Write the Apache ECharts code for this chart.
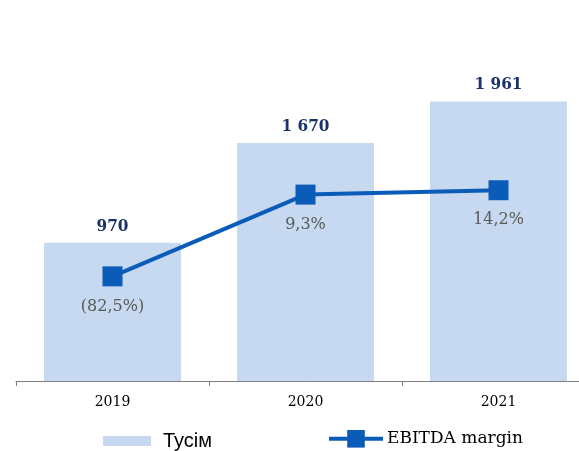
<!DOCTYPE html>
<html>
<head>
<meta charset="utf-8">
<script src="https://cdn.jsdelivr.net/npm/echarts@6/dist/echarts.min.js"></script>
<style>
  html, body { margin: 0; padding: 0; background: #fff; overflow: hidden; }
  /* the chart is wider than the window: its right edge is cut off, as in the source */
  #main { width: 595px; height: 451px; }
</style>
</head>
<body>
<div id="main"></div>
<script>
// data
var years = ["2019", "2020", "2021"];
var totalValues = [970, 1670, 1961];
var marginValues = [-82.5, 9.3, 14.2];

var serif = "'DejaVu Serif', serif";
var serifBold = "'DejaVu Serif Condensed', 'Liberation Serif', serif";

function fmtThousands(v) {
    return String(v).replace(/\B(?=(\d{3})+(?!\d))/g, " ");
}
function fmtPct(v) {
    var s = Math.abs(v).toFixed(1).replace(".", ",") + "%";
    return v < 0 ? "(" + s + ")" : s;
}

var chart = echarts.init(document.getElementById("main"));
chart.setOption({
    animation: false,
    grid: { left: 16, right: 0, top: 39, bottom: 70 },
    legend: [
        {
            data: ["Тусім"],
            left: 103, top: 431,
            padding: 0,
            itemWidth: 48, itemHeight: 10,
            icon: "rect",
            textStyle: { fontFamily: "'Liberation Sans', Arial, sans-serif", fontSize: 20, color: "#000", padding: [0, 0, 0, 7] }
        },
        {
            data: ["EBITDA margin"],
            left: 327, top: 430,
            padding: 0,
            itemWidth: 54, itemHeight: 22,
            lineStyle: { width: 4 },
            textStyle: { fontFamily: serif, fontSize: 17, color: "#000", padding: [0, 0, 0, -1] }
        }
    ],
    xAxis: {
        type: "category",
        data: years,
        axisLine: { lineStyle: { color: "#7f7f7f", width: 1 } },
        axisTick: { show: true, length: 5, lineStyle: { color: "#7f7f7f" } },
        axisLabel: { fontFamily: serif, fontSize: 14, color: "#000", margin: 14 }
    },
    yAxis: [
        { type: "value", min: 0, max: 2400, show: false, splitLine: { show: false } },
        { type: "value", min: -200, max: 184, show: false, splitLine: { show: false } }
    ],
    series: [
        {
            name: "Тусім",
            type: "bar",
            data: totalValues,
            barCategoryGap: "29%",
            itemStyle: { color: "#c6d9f0" },
            label: {
                show: true,
                position: "top",
                distance: 8,
                formatter: function (p) { return fmtThousands(p.value); },
                fontFamily: serifBold,
                fontWeight: "bold",
                fontSize: 17,
                color: "#1a3268"
            }
        },
        {
            name: "EBITDA margin",
            type: "line",
            yAxisIndex: 1,
            data: marginValues,
            symbol: "rect",
            symbolSize: 20,
            lineStyle: { color: "#0b5cb9", width: 4 },
            itemStyle: { color: "#0b5cb9" },
            label: {
                show: true,
                position: "bottom",
                distance: 12,
                formatter: function (p) { return fmtPct(p.value); },
                fontFamily: serif,
                fontSize: 16,
                color: "#595959"
            }
        }
    ]
});
</script>
</body>
</html>
